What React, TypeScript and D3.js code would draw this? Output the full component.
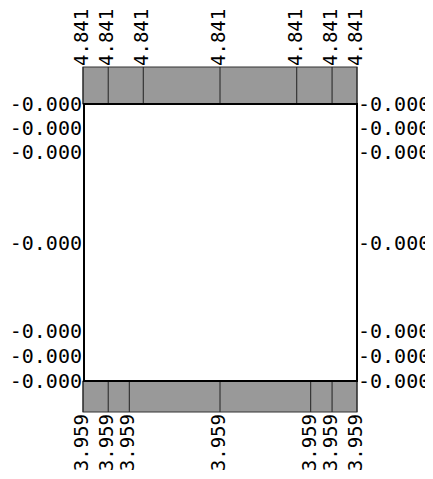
import React, { useEffect, useRef } from 'react';
import * as d3 from 'd3';

// tick values (normalised along each axis) and the labels printed at them
const topTicks = [0, 0.092, 0.22, 0.5, 0.78, 0.909, 1];
const topLabels = ['4.841', '4.841', '4.841', '4.841', '4.841', '4.841', '4.841'];
const bottomTicks = [0, 0.092, 0.169, 0.5, 0.831, 0.909, 1];
const bottomLabels = ['3.959', '3.959', '3.959', '3.959', '3.959', '3.959', '3.959'];
const sideTicks = [0, 0.087, 0.173, 0.502, 0.819, 0.91, 1];
const sideLabels = ['-0.000', '-0.000', '-0.000', '-0.000', '-0.000', '-0.000', '-0.000'];

const App = () => {
  const svgRef = useRef<SVGSVGElement>(null);

  useEffect(() => {
    const svg = d3.select(svgRef.current);
    svg.selectAll('*').remove();

    const left = 83, right = 357, top = 104, bottom = 381;
    const bandTop = 67, bandBottom = 412;
    const font = '"DejaVu Sans Mono", monospace';
    const fs = 20;
    const fsRot = 19;

    const x = d3.scaleLinear().domain([0, 1]).range([left, right]);
    const y = d3.scaleLinear().domain([0, 1]).range([top, bottom]);

    const g = svg.append('g').attr('transform', 'translate(-8,-8)');

    // top band
    g.append('rect')
      .attr('x', left).attr('y', bandTop)
      .attr('width', right - left).attr('height', top - bandTop)
      .attr('fill', '#999').attr('stroke', '#333').attr('stroke-width', 1);
    g.selectAll('line.tdiv').data(topTicks).enter().append('line')
      .attr('x1', d => x(d)).attr('x2', d => x(d))
      .attr('y1', bandTop).attr('y2', top)
      .attr('stroke', '#222').attr('stroke-width', 1);
    g.selectAll('text.tl').data(topTicks).enter().append('text')
      .attr('transform', d => `translate(${x(d)},${bandTop - 1}) rotate(-90)`)
      .attr('dy', 5)
      .attr('text-anchor', 'start')
      .style('font-family', font).style('font-size', fsRot + 'px')
      .text((d, i) => topLabels[i]);

    // bottom band
    g.append('rect')
      .attr('x', left).attr('y', bottom)
      .attr('width', right - left).attr('height', bandBottom - bottom)
      .attr('fill', '#999').attr('stroke', '#333').attr('stroke-width', 1);
    g.selectAll('line.bdiv').data(bottomTicks).enter().append('line')
      .attr('x1', d => x(d)).attr('x2', d => x(d))
      .attr('y1', bottom).attr('y2', bandBottom)
      .attr('stroke', '#222').attr('stroke-width', 1);
    g.selectAll('text.bl').data(bottomTicks).enter().append('text')
      .attr('transform', d => `translate(${x(d)},${bandBottom + 2}) rotate(-90)`)
      .attr('dy', 5)
      .attr('text-anchor', 'end')
      .style('font-family', font).style('font-size', fsRot + 'px')
      .text((d, i) => bottomLabels[i]);

    // plot frame
    g.append('rect')
      .attr('x', left + 1).attr('y', top)
      .attr('width', right - left - 1).attr('height', bottom - top)
      .attr('fill', '#fff').attr('stroke', '#000').attr('stroke-width', 2);

    // side labels
    g.selectAll('text.ll').data(sideTicks).enter().append('text')
      .attr('x', left - 1).attr('y', d => y(d))
      .attr('dy', '0.35em')
      .attr('text-anchor', 'end')
      .style('font-family', font).style('font-size', fs + 'px')
      .text((d, i) => sideLabels[i]);
    g.selectAll('text.rl').data(sideTicks).enter().append('text')
      .attr('x', right + 1).attr('y', d => y(d))
      .attr('dy', '0.35em')
      .attr('text-anchor', 'start')
      .style('font-family', font).style('font-size', fs + 'px')
      .text((d, i) => sideLabels[i]);
  }, []);

  return <svg ref={svgRef} width={433} height={479} style={{ display: 'block' }} />;
};

export default App;
